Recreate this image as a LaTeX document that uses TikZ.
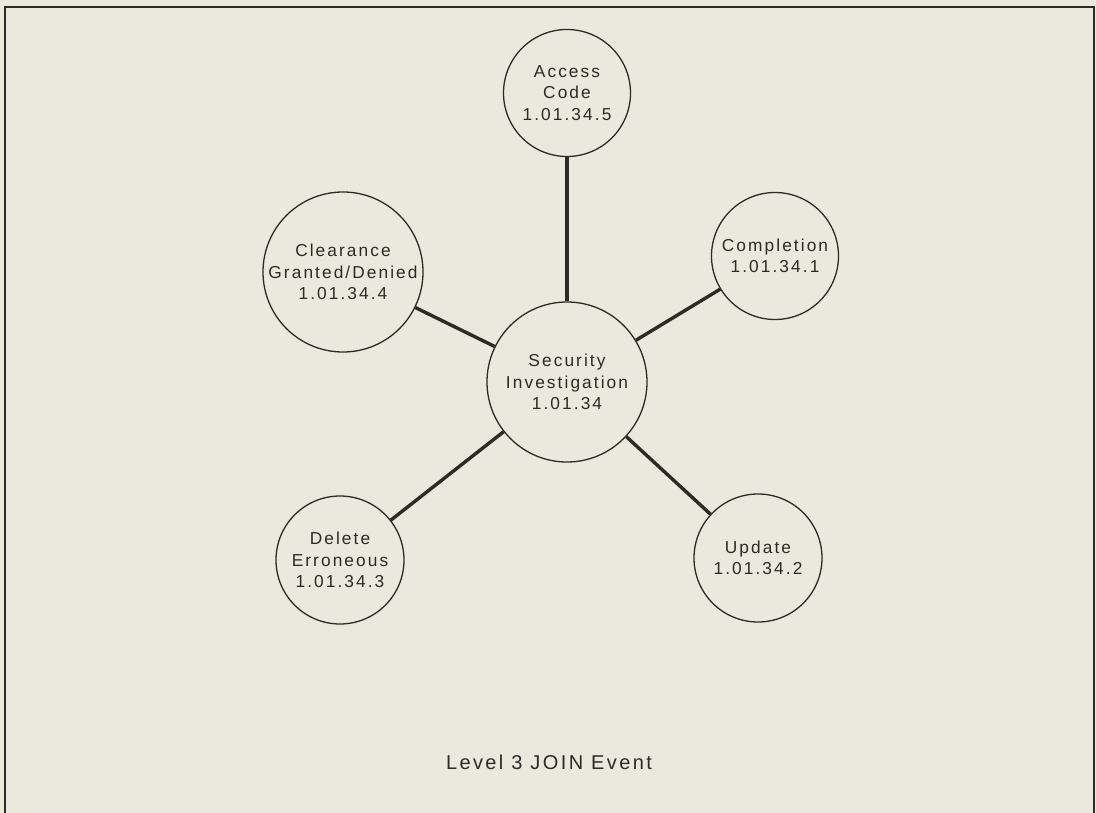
\documentclass[tikz,border=0pt]{standalone}
\usepackage{fontspec}
\setmainfont{Liberation Sans}[LetterSpace=12]
\definecolor{paper}{RGB}{233,233,221}
\definecolor{ink}{RGB}{45,42,40}
\begin{document}
\begin{tikzpicture}[x=1pt,y=-1pt,
  bubble/.style={circle,draw=ink,line width=1.3pt,inner sep=0pt,
    align=center,text=ink,font=\fontsize{17.3}{21.5}\selectfont},
  link/.style={draw=ink,line width=3.4pt}]
  % page and frame
  \fill[paper] (0,0) rectangle (1096,813);
  \useasboundingbox (0,0) rectangle (1096,813);
  \draw[ink,line width=2.5pt] (5,813) -- (5,7) -- (1094,7) -- (1094,813);

  % processes
  \node[bubble,minimum size=160pt] (si) at (567,382) {Security\\Investigation\\1.01.34};
  \node[bubble,minimum size=127pt] (ac) at (567,93) {Access\\Code\\1.01.34.5};
  \node[bubble,minimum size=160pt] (cg) at (343,272) {Clearance\\Granted/Denied\\1.01.34.4};
  \node[bubble,minimum size=127pt] (co) at (775,256) {Completion\\1.01.34.1};
  \node[bubble,minimum size=128pt] (de) at (340,560) {Delete\\Erroneous\\1.01.34.3};
  \node[bubble,minimum size=128pt] (up) at (758,558) {Update\\1.01.34.2};

  % links to the central process
  \draw[link] (si) -- (ac);
  \draw[link] (si) -- (cg);
  \draw[link] (si) -- (co);
  \draw[link] (si) -- (de);
  \draw[link] (si) -- (up);

  % caption
  \node[text=ink,font=\fontsize{20}{24}\selectfont] (cap) at (549,762) {Level 3 JOIN Event};
\end{tikzpicture}
\end{document}
